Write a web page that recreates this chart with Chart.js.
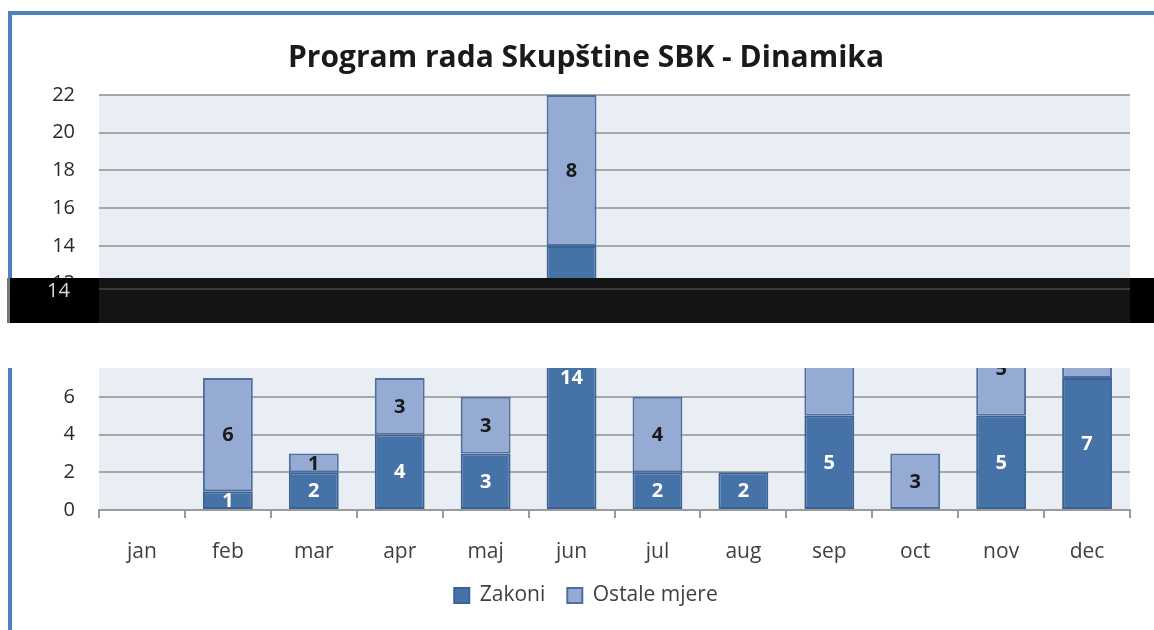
<!DOCTYPE html>
<html>
<head>
<meta charset="utf-8">
<script src="https://cdn.jsdelivr.net/npm/chart.js@4.4.1/dist/chart.umd.min.js"></script>
<style>
  html, body { margin: 0; padding: 0; background: #ffffff; }
  #wrap { position: relative; width: 1154px; height: 630px; overflow: hidden; }
  #frame { position: absolute; left: 8px; top: 11px; right: -10px; bottom: -10px;
           border-top: 4px solid #4f81bd; border-left: 4px solid #4f81bd; pointer-events: none; }
  #band { position: absolute; left: 7px; top: 278px; width: 1147px; height: 45px; background: #000; }
  #bandPlot { position: absolute; left: 92px; top: 0; width: 1031px; height: 45px; background: #141414; }
  #bandLine { position: absolute; left: 92px; top: 10px; width: 1031px; height: 2px; background: #3a3a3a; }
  #bandEdge { position: absolute; left: 0; top: 0; width: 3px; height: 45px; background: #777; }
  #bandTick { position: absolute; left: 40px; top: -2px; font: 20px 'Open Sans', sans-serif; color: #d8d8d8; }
  #gap { position: absolute; left: 0; top: 323px; width: 1154px; height: 45px; background: #fff; }
  canvas { position: absolute; left: 0; top: 0; }
</style>
</head>
<body>
<div id="wrap">
  <canvas id="c" width="1154" height="630"></canvas>
  <div id="frame"></div>
  <div id="band"><div id="bandPlot"></div><div id="bandLine"></div><div id="bandEdge"></div><div id="bandTick">14</div></div>
  <div id="gap"></div>
</div>
<script>
const chartTitle = "Program rada Skupštine SBK - Dinamika";
const categories = ["jan", "feb", "mar", "apr", "maj", "jun", "jul", "aug", "sep", "oct", "nov", "dec"];
const seriesNames = ["Zakoni", "Ostale mjere"];
const zakoni = [0, 1, 2, 4, 3, 14, 2, 2, 5, 0, 5, 7];
const ostaleMjere = [0, 6, 1, 3, 3, 8, 4, 0, 6, 3, 5, 3];
const yTicks = [0, 2, 4, 6, 8, 10, 12, 14, 16, 18, 20, 22];

const FONT = "'Open Sans', Lato, sans-serif";
const nz = arr => arr.map(v => (v === 0 ? null : v));

const plotBg = {
  id: 'plotBg',
  beforeDraw(chart) {
    const {ctx, chartArea: a} = chart;
    ctx.save();
    ctx.fillStyle = '#e9edf4';
    ctx.fillRect(a.left, a.top, a.right - a.left, a.bottom - a.top);
    ctx.restore();
  }
};

const barLabels = {
  id: 'barLabels',
  afterDatasetsDraw(chart) {
    const ctx = chart.ctx;
    ctx.save();
    ctx.font = "bold 20px " + FONT;
    ctx.textAlign = 'center';
    ctx.textBaseline = 'middle';
    chart.data.datasets.forEach((ds, di) => {
      const meta = chart.getDatasetMeta(di);
      meta.data.forEach((el, i) => {
        const v = ds.data[i];
        if (!v) return;
        const y = (el.y + el.base) / 2;
        ctx.fillStyle = di === 0 ? '#ffffff' : '#1a1a1a';
        ctx.fillText(String(v), el.x, y + 1);
      });
    });
    ctx.restore();
  }
};

new Chart(document.getElementById('c'), {
  type: 'bar',
  data: {
    labels: categories,
    datasets: [
      { label: seriesNames[0], data: nz(zakoni), backgroundColor: '#4572a7', borderColor: '#3b6294', borderWidth: 2, borderSkipped: false },
      { label: seriesNames[1], data: nz(ostaleMjere), backgroundColor: '#95abd4', borderColor: '#4d6e9e', borderWidth: 2, borderSkipped: false }
    ]
  },
  plugins: [plotBg, barLabels],
  options: {
    responsive: false,
    animation: false,
    devicePixelRatio: 1,
    layout: { padding: { left: 42, right: 24, top: 14, bottom: 14 } },
    datasets: { bar: { categoryPercentage: 1.0, barPercentage: 0.58 } },
    plugins: {
      title: {
        display: true,
        text: chartTitle,
        color: '#1a1a1a',
        font: { family: FONT, size: 30, weight: 'bold' },
        padding: { top: 26, bottom: 19 }
      },
      legend: {
        position: 'bottom',
        labels: {
          color: '#404040',
          font: { family: FONT, size: 21 },
          boxWidth: 15,
          boxHeight: 15,
          padding: 22
        }
      },
      tooltip: { enabled: false }
    },
    scales: {
      x: {
        stacked: true,
        afterFit(scale) { scale.height = 53; },
        grid: { display: true, drawOnChartArea: false, drawTicks: true, tickLength: 8, color: '#9a9a9a', lineWidth: 2, offset: true },
        border: { display: true, color: '#9a9a9a', width: 2 },
        ticks: { color: '#404040', font: { family: FONT, size: 21 }, padding: 21 }
      },
      y: {
        stacked: true,
        min: 0,
        max: 22,
        afterBuildTicks(scale) { scale.ticks = yTicks.map(v => ({ value: v })); },
        afterFit(scale) { scale.width = 57; },
        grid: { color: '#a4a7ab', lineWidth: 2, drawTicks: false },
        border: { display: false },
        ticks: { color: '#2a2a2a', font: { family: FONT, size: 20 }, padding: 24 }
      }
    }
  }
});
</script>
</body>
</html>
